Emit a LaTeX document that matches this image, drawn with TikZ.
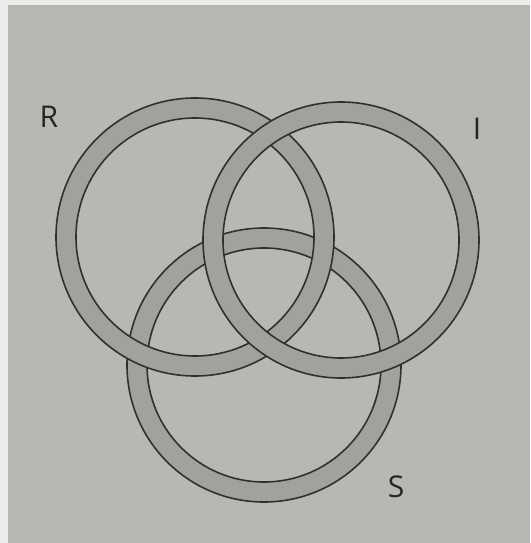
\documentclass[tikz,border=0pt]{standalone}
\usepackage{fontspec}
\setmainfont{Open Sans}
\definecolor{paper}{RGB}{185,183,178}
\definecolor{margin}{RGB}{236,236,234}
\definecolor{bandgray}{RGB}{163,161,158}
\definecolor{ink}{RGB}{48,48,48}
\newcommand\bandring[4]{%
  \fill[bandgray, even odd rule] (#1,#2) circle[radius=#3] (#1,#2) circle[radius=#4];
  \draw[ringline] (#1,#2) circle[radius=#3] (#1,#2) circle[radius=#4];}
\begin{document}
\begin{tikzpicture}[x=1pt,y=-1pt,
  ringline/.style={draw=ink, line width=1.6pt},
  lbl/.style={inner sep=0pt, text=black!85, font=\fontsize{30}{30}\selectfont}]
\useasboundingbox (0,0) rectangle (530,543);
\fill[margin] (0,0) rectangle (530,543);
\fill[paper] (8,5) rectangle (530,543);
% S (lowest), R (middle), I (top)
\coordinate (Sc) at (264,365);
\coordinate (Rc) at (195,237);
\coordinate (Ic) at (341,240);
\bandring{264}{365}{137}{117}
\bandring{195}{237}{139}{119}
\bandring{341}{240}{138}{118}
\node[lbl] (R) at (49,117) {R};
\node[lbl] (I) at (477,129) {I};
\node[lbl] (S) at (396,487) {S};
\end{tikzpicture}
\end{document}
